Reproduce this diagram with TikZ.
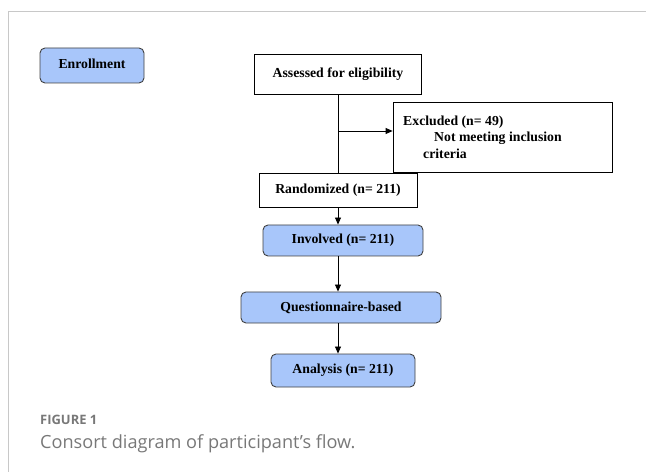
\documentclass[tikz,border=0pt]{standalone}
\usepackage{fontspec}
\setmainfont{Liberation Serif}
\newfontfamily\capfont{Open Sans}
\usetikzlibrary{arrows.meta}
\definecolor{boxblue}{RGB}{168,198,250}
\definecolor{frameg}{RGB}{200,200,200}
\definecolor{capg}{RGB}{120,120,120}
\newcommand{\boxfont}{\fontsize{13.8}{16}\selectfont\bfseries}
\begin{document}
\begin{tikzpicture}[x=1bp,y=-1bp,
  plainbox/.style={draw=black, line width=0.8bp, fill=white, inner sep=0pt, font=\boxfont},
  bluebox/.style={draw=black!75, line width=0.9bp, fill=boxblue, rounded corners=5bp, inner sep=0pt, font=\boxfont},
  conn/.style={line width=0.8bp},
  arr/.style={line width=0.8bp, -{Triangle[length=7bp,width=6bp]}}]
\useasboundingbox (0,0) rectangle (646,472);
% frame
\draw[frameg, line width=1bp] (646,12) -- (8,12) -- (8,472);
% boxes
\node[bluebox, minimum width=104bp, minimum height=35bp] (enr) at (92,65.5) {};
\node[font=\boxfont] (enrt) at (92,64) {Enrollment};
\node[plainbox, minimum width=167bp, minimum height=40bp] (ass) at (338,74) {Assessed for eligibility};
\node[plainbox, minimum width=219bp, minimum height=70bp] (exc) at (502.5,137) {};
\node[anchor=base west, inner sep=0pt, font=\boxfont] (exc1) at (403,126) {Excluded (n= 49)};
\node[anchor=base west, inner sep=0pt, font=\boxfont] (exc2) at (434,142) {Not meeting inclusion};
\node[anchor=base west, inner sep=0pt, font=\boxfont] (exc3) at (423,159) {criteria};
\node[plainbox, minimum width=158bp, minimum height=34bp] (ran) at (338,190) {Randomized (n= 211)};
\node[bluebox, minimum width=160bp, minimum height=31bp] (inv) at (343,240.5) {Involved (n= 211)};
\node[bluebox, minimum width=200bp, minimum height=31bp] (que) at (341,307.5) {Questionnaire-based};
\node[bluebox, minimum width=144bp, minimum height=33bp] (ana) at (343,370.5) {Analysis (n= 211)};
% connectors
\coordinate (br) at (338,131);
\draw[conn] (ass.south -| br) -- (ran.north -| br);
\draw[arr] (br) -- (br -| exc.west);
\draw[arr] (ran.south -| br) -- (inv.north -| br);
\draw[arr] (inv.south -| br) -- (que.north -| br);
\draw[arr] (que.south -| br) -- (ana.north -| br);
% caption
\node[anchor=base west, inner sep=0pt, text=capg, font=\capfont\fontsize{13}{15}\selectfont\bfseries] (fig) at (40,424) {FIGURE 1};
\node[anchor=base west, inner sep=0pt, text=capg, font=\capfont\fontsize{18.2}{21}\selectfont] (cap) at (40,448) {Consort diagram of participant’s flow.};
\end{tikzpicture}
\end{document}
